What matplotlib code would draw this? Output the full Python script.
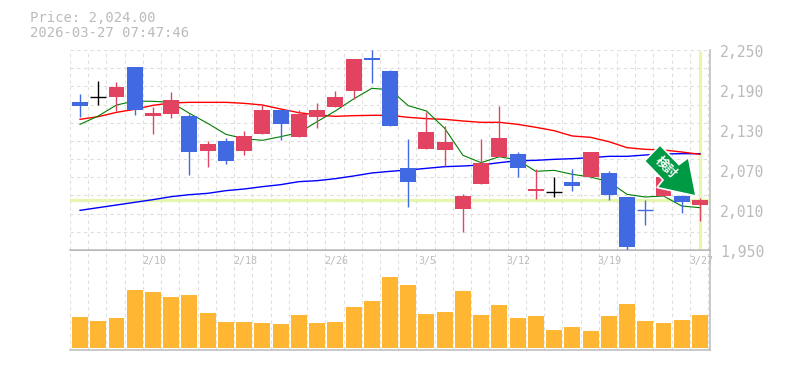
import matplotlib
matplotlib.use('Agg')
import matplotlib.pyplot as plt
from matplotlib.patches import Polygon

W, H = 785, 370

# ohlc
opens = [2172, 2179, 2179.5, 2224.5, 2151, 2154, 2151, 2098.5, 2113.5, 2098.5, 2124, 2160, 2119.5, 2149.5, 2164.5, 2188.5, 2238, 2218.5,
         2073, 2101.5, 2100, 2011.5, 2049, 2089.5, 2094, 2038.5, 2037, 2052, 2059.5, 2065.5, 2029.5, 2010.5, 2031, 2031, 2017.5]
closes = [2166, 2179, 2194.5, 2160, 2155.5, 2175, 2097, 2109, 2083.5, 2121, 2160, 2139, 2154, 2160, 2179.5, 2236.5, 2235, 2136,
          2052, 2127, 2112, 2031, 2080.5, 2118, 2073, 2041.5, 2037, 2046, 2097, 2032.5, 1954.5, 2010, 2059.5, 2022, 2025]
highs = [2184, 2203.5, 2202, 2224.5, 2164.5, 2187, 2154, 2113.5, 2118, 2128.5, 2169, 2160, 2160, 2170.5, 2188.5, 2236.5, 2250, 2220,
         2116.5, 2157, 2136, 2034, 2116.5, 2166, 2097, 2071, 2059.5, 2071.5, 2097, 2068.5, 2029.5, 2025, 2059.5, 2032.5, 2028]
lows = [2149.5, 2167.5, 2158, 2152.5, 2124, 2148, 2062.5, 2074.5, 2079, 2092.5, 2124, 2115, 2119.5, 2133, 2164.5, 2176, 2200.5, 2136,
        2015, 2101.5, 2076, 1977, 2049, 2089.5, 2059.5, 2026.5, 2029.5, 2038.5, 2058, 2025, 1948.5, 1987.5, 2031, 2005.5, 1993.5]

ma_short = [2138.5, 2151, 2167.5, 2173.5, 2173, 2171.5, 2155, 2140, 2123.5, 2117, 2114.5, 2120, 2126, 2142.5, 2158.5, 2176.5, 2192.5, 2190.5,
            2166.5, 2158.5, 2132.5, 2092, 2081, 2090, 2085, 2068, 2069.5, 2063.5, 2059.5, 2052.5, 2033.5, 2029.5, 2031, 2016, 2013.5]
ma_mid = [2146, 2150, 2156.5, 2161, 2167, 2170.5, 2171.5, 2171.5, 2171.5, 2170, 2167.5, 2161.5, 2156, 2152.5, 2150.5, 2151.5, 2152, 2152,
          2149, 2147, 2146, 2143.5, 2141.5, 2141.5, 2138.5, 2134, 2129, 2121, 2119, 2112.5, 2103.5, 2101, 2100, 2097, 2093.5]
ma_long = [2009.5, 2013.5, 2017.5, 2021.5, 2025.5, 2030, 2033, 2035, 2039, 2041.5, 2045, 2048, 2052.5, 2054, 2057, 2061, 2065.5, 2068,
           2070, 2072.5, 2075, 2076, 2077.5, 2081, 2084, 2084.5, 2086, 2087, 2088.5, 2090.5, 2090.5, 2092.5, 2094, 2094.5, 2094.5]
volumes = [92, 80, 89, 173, 167, 152, 158, 104, 77, 77, 74, 71, 98, 74, 77, 122, 140, 212,
           188, 101, 107, 170, 98, 128, 89, 95, 53, 62, 50, 95, 131, 80, 74, 83, 98]

date_pos = [4, 9, 14, 19, 24, 29, 34]
date_labels = ['2/10', '2/18', '2/26', '3/5', '3/12', '3/19', '3/27']
price_ticks = [1950, 2010, 2070, 2130, 2190, 2250]
last_price = 2024.5
last_idx = 34

GRAY = '#bbbbbb'
GRID = '#dedede'
UP = '#e14360'
DOWN = '#4169e1'
CROSS = '#e6f5b0'
MONO = ['DejaVu Sans Mono', 'Liberation Mono']


def to_fig(px, py):
    return px / W, 1 - py / H


fig = plt.figure(figsize=(W / 100, H / 100), dpi=100)
ax = fig.add_axes([70 / W, 1 - 250 / H, 640 / W, 200 / H])
vol = fig.add_axes([70 / W, 1 - 350 / H, 640 / W, 100 / H])

slots = [i + 0.45 for i in range(-1, 35)]
for a in (ax, vol):
    a.set_xlim(-0.55, 34.55)
    a.set_xticks([])
    a.set_yticks([])
    a.patch.set_visible(False)
    for x in slots:
        a.axvline(x, color=GRID, lw=0.8, ls=(0, (3, 3)), zorder=1)
    for side in ('top', 'left'):
        a.spines[side].set_visible(False)
    for side in ('bottom', 'right'):
        a.spines[side].set_color(GRAY)
        a.spines[side].set_linewidth(1.1)

ax.set_ylim(1950, 2250)
for k in range(12):
    ax.axhline(1950 + 300 * k / 11, color=GRID, lw=0.8, ls=(0, (3, 3)), zorder=1)

# crosshair for current price
ax.axhline(last_price, color=CROSS, lw=2.4, zorder=2)
ax.plot([last_idx, last_idx], [1951, 2249], color=CROSS, lw=2.4, zorder=2, solid_capstyle='butt')

xs = list(range(len(opens)))
ax.plot(xs, ma_long, color='#0000ff', lw=1.0, zorder=3)
ax.plot(xs, ma_mid, color='#ff0000', lw=1.0, zorder=3)
ax.plot(xs, ma_short, color='#007f00', lw=0.8, zorder=3)

for i in xs:
    o, c = opens[i], closes[i]
    col = UP if c > o else DOWN if c < o else 'black'
    ax.vlines(i, lows[i], highs[i], color=col, lw=1.0, zorder=4)
    if abs(o - c) <= 1:
        ax.hlines(o, i - 0.44, i + 0.44, color=col, lw=1.0, zorder=4)
    else:
        ax.bar(i, abs(c - o), bottom=min(o, c), width=0.877, color=col, zorder=5, lw=0)

vol.set_ylim(-7, 293)
vol.bar(xs, volumes, width=0.877, color='#ffb733', zorder=3, lw=0)
vol.spines['top'].set_visible(True)
vol.spines['top'].set_color(GRAY)

for x, lab in zip(date_pos, date_labels):
    vol.annotate(lab, (x, 1), xycoords=('data', 'axes fraction'), xytext=(1, -11),
                 textcoords='offset pixels', ha='center', va='center',
                 color=GRAY, family=MONO, fontsize=7.2, zorder=6)

for p in price_ticks:
    ax.annotate(f'{p:,}', (1, p), xycoords=('axes fraction', 'data'), xytext=(10, -3),
                textcoords='offset pixels', ha='left', va='center',
                color=GRAY, family=MONO, fontsize=10.6, annotation_clip=False)

fig.text(30 / W, 1 - 18 / H, f'Price: {2024:,}.00', color=GRAY, family=MONO, fontsize=10, va='center')
fig.text(30 / W, 1 - 33 / H, '2026-03-27 07:47:46', color=GRAY, family=MONO, fontsize=10, va='center')

# entry marker
arrow_px = [(644.5, 161), (660, 145), (679, 164.5), (688.5, 157.5), (696, 196), (657, 187.5), (663, 180)]
fig.add_artist(Polygon([to_fig(*p) for p in arrow_px], closed=True, transform=fig.transFigure,
                       facecolor='#009944', edgecolor='white', lw=1.2, zorder=10))
fig.text(*to_fig(666, 167.5), '検討', color='white', family=['Noto Sans CJK JP', 'DejaVu Sans'], fontsize=9,
         fontweight='bold', rotation=-45, ha='center', va='center', zorder=11)

fig.savefig('out.png', dpi=100)
